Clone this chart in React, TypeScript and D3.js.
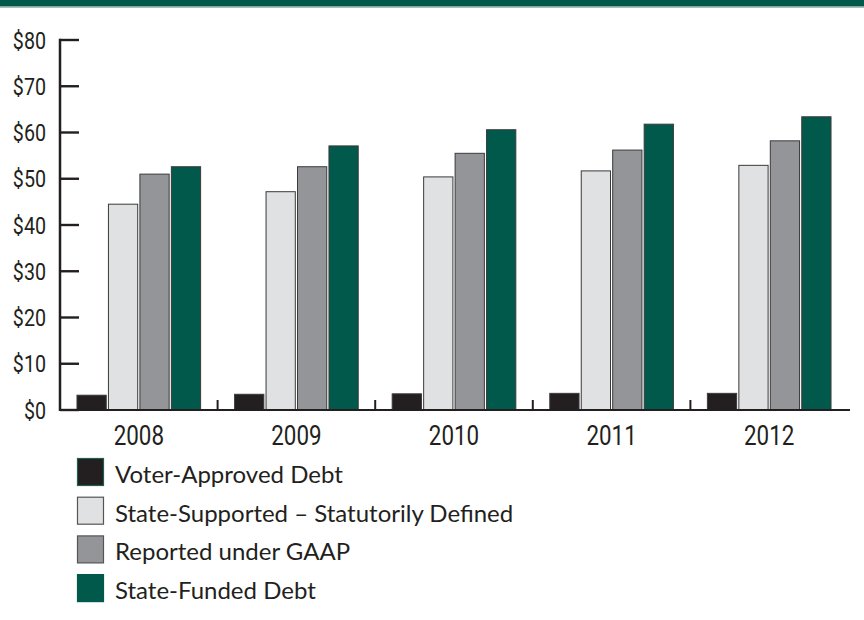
import React from "react";
import * as d3 from "d3";

const years = ["2008", "2009", "2010", "2011", "2012"];
const seriesNames = [
  "Voter-Approved Debt",
  "State-Supported – Statutorily Defined",
  "Reported under GAAP",
  "State-Funded Debt",
];
const voterApproved = [3.2, 3.4, 3.5, 3.6, 3.6];
const stateSupported = [44.5, 47.2, 50.4, 51.7, 52.9];
const reportedGAAP = [51.0, 52.6, 55.5, 56.2, 58.2];
const stateFunded = [52.6, 57.1, 60.6, 61.8, 63.4];
const yTicks = [0, 10, 20, 30, 40, 50, 60, 70, 80];
const yTickLabels = ["$0", "$10", "$20", "$30", "$40", "$50", "$60", "$70", "$80"];
const seriesColors = ["#231f20", "#e0e1e2", "#939598", "#00594a"];
const legendStrokes = ["#1f5c52", "#555555", "#555555", "#00594a"];

const W = 864;
const H = 620;
const left = 60;
const right = 848;
const top = 40;
const bottom = 410;

export default function App() {
  const series = [voterApproved, stateSupported, reportedGAAP, stateFunded];
  const y = d3.scaleLinear().domain([0, 80]).range([bottom, top]);
  const x0 = d3.scaleBand<string>().domain(years).range([left, right]).padding(0);
  const x1 = d3
    .scaleBand<string>()
    .domain(seriesNames)
    .range([0, x0.bandwidth()])
    .paddingInner(0.07)
    .paddingOuter(0.54);
  const axisFont = "Roboto, 'Noto Sans', sans-serif";
  const legendFont = "Lato, 'Open Sans', sans-serif";
  const dark = "#231f20";

  return (
    <svg width={W} height={H} style={{ position: "absolute", left: 0, top: 0, background: "#fff" }}>
      <rect x={0} y={0} width={W} height={6.5} fill="#00594a" />
      <rect x={0} y={6.5} width={W} height={1.2} fill="#7fa89c" />

      {/* bars */}
      {years.map((yr, i) => (
        <g key={yr} transform={`translate(${x0(yr)},0)`}>
          {seriesNames.map((s, j) => (
            <rect
              key={s}
              x={x1(s)}
              y={y(series[j][i])}
              width={x1.bandwidth()}
              height={y(0) - y(series[j][i])}
              fill={seriesColors[j]}
              stroke="#3a3a3a"
              strokeWidth={1}
            />
          ))}
        </g>
      ))}

      {/* y axis */}
      <line x1={left} x2={left} y1={top - 1.2} y2={bottom + 1} stroke={dark} strokeWidth={2.5} />
      {yTicks.map((t, i) => (
        <g key={t}>
          <line x1={left} x2={left + 19} y1={y(t)} y2={y(t)} stroke={dark} strokeWidth={2.4} />
          <text
            transform={`translate(46,${y(t)}) scale(0.82,1)`}
            dy="0.36em"
            textAnchor="end"
            fontFamily={axisFont}
            fontSize={24}
            fill={dark}
          >
            {yTickLabels[i]}
          </text>
        </g>
      ))}

      {/* x axis */}
      <line x1={left - 1} x2={right + 2} y1={bottom} y2={bottom} stroke={dark} strokeWidth={2.2} />
      {years.slice(1).map((yr) => (
        <line key={yr} x1={x0(yr)} x2={x0(yr)} y1={bottom - 10} y2={bottom} stroke={dark} strokeWidth={2} />
      ))}
      {years.map((yr) => (
        <text
          key={yr}
          transform={`translate(${(x0(yr) as number) + x0.bandwidth() / 2},445) scale(0.8,1)`}
          textAnchor="middle"
          fontFamily={axisFont}
          fontSize={28}
          fill={dark}
        >
          {yr}
        </text>
      ))}

      {/* legend */}
      {seriesNames.map((s, j) => (
        <g key={s} transform={`translate(77,${458 + j * 38.7})`}>
          <rect x={0.5} y={0.5} width={26} height={27} fill={seriesColors[j]} stroke={legendStrokes[j]} strokeWidth={1.2} />
          <text x={38} y={25} fontFamily={legendFont} fontSize={24} fill={dark}>
            {s}
          </text>
        </g>
      ))}
    </svg>
  );
}
